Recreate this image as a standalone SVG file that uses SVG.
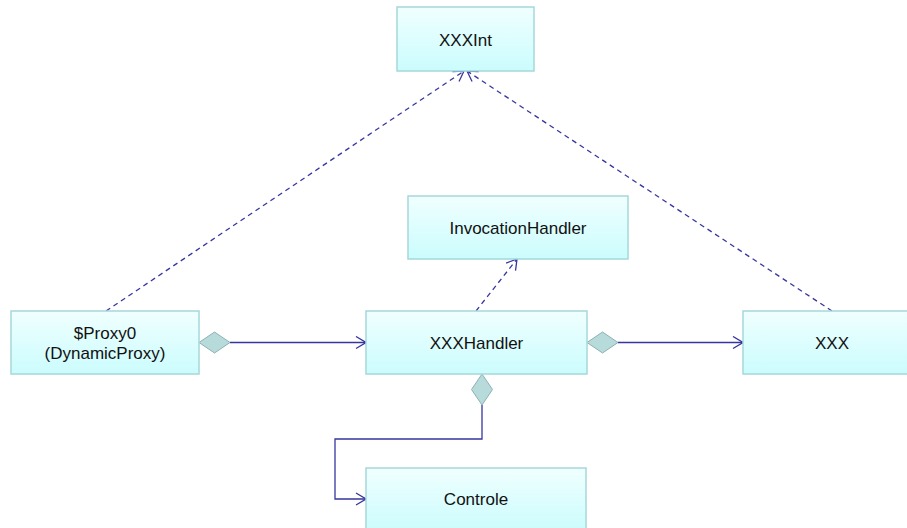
<svg xmlns="http://www.w3.org/2000/svg" width="907" height="528" viewBox="0 0 907 528">
  <style>
    .box { fill: url(#boxFill); stroke: #a6d8da; stroke-width: 1.5; }
    .label { font-family: "Liberation Sans", Arial, sans-serif; font-size: 17px; fill: #111; text-anchor: middle; }
    .dep { fill: none; stroke: #3636a0; stroke-width: 1.3; stroke-dasharray: 5 4; marker-end: url(#open); }
    .assoc { fill: none; stroke: #3636a0; stroke-width: 1.3; marker-end: url(#open); }
    .diamond { fill: #b7dadb; stroke: #8fb1b3; stroke-width: 1; }
  </style>
  <defs>
    <linearGradient id="boxFill" x1="0" y1="0" x2="0" y2="1">
      <stop offset="0" stop-color="#f0ffff"/>
      <stop offset="1" stop-color="#cbfcfd"/>
    </linearGradient>
    <marker id="open" viewBox="0 0 12 14" refX="11" refY="7" markerWidth="12" markerHeight="14" markerUnits="userSpaceOnUse" orient="auto">
      <path d="M1,1 L11,7 L1,13" fill="none" stroke="#3636a0" stroke-width="1.3"/>
    </marker>
  </defs>

  <g id="connectors">
    <!-- realisation of XXXInt -->
    <path class="dep" d="M106,311 L464,71"/>
    <path class="dep" d="M832,311 L467,71"/>
    <!-- XXXHandler implements InvocationHandler -->
    <path class="dep" d="M476,311 L517,259"/>
    <!-- aggregations -->
    <path class="assoc" d="M230,342.5 L366,342.5"/>
    <path class="assoc" d="M618,342.5 L743,342.5"/>
    <path class="assoc" d="M482,405 L482,439 L335,439 L335,499 L366,499"/>
    <polygon class="diamond" points="199,342.5 214.5,332 230,342.5 214.5,353"/>
    <polygon class="diamond" points="587,342.5 602.5,332 618,342.5 602.5,353"/>
    <polygon class="diamond" points="482,374 492.5,389.5 482,405 471.5,389.5"/>
  </g>

  <g id="xxxint">
    <rect class="box" x="397" y="7" width="137" height="64"/>
    <text class="label" x="465.5" y="45.5">XXXInt</text>
  </g>
  <g id="invocationhandler">
    <rect class="box" x="408" y="196" width="220" height="63"/>
    <text class="label" x="518" y="234">InvocationHandler</text>
  </g>
  <g id="proxy0">
    <rect class="box" x="11" y="311" width="188" height="63"/>
    <text class="label" x="105" y="339">$Proxy0</text>
    <text class="label" x="105" y="359">(DynamicProxy)</text>
  </g>
  <g id="xxxhandler">
    <rect class="box" x="366" y="311" width="221" height="63"/>
    <text class="label" x="476.5" y="349">XXXHandler</text>
  </g>
  <g id="xxx">
    <rect class="box" x="743" y="311" width="178" height="63"/>
    <text class="label" x="832" y="349">XXX</text>
  </g>
  <g id="controle">
    <rect class="box" x="366" y="468" width="220" height="64"/>
    <text class="label" x="476" y="505">Controle</text>
  </g>
</svg>
